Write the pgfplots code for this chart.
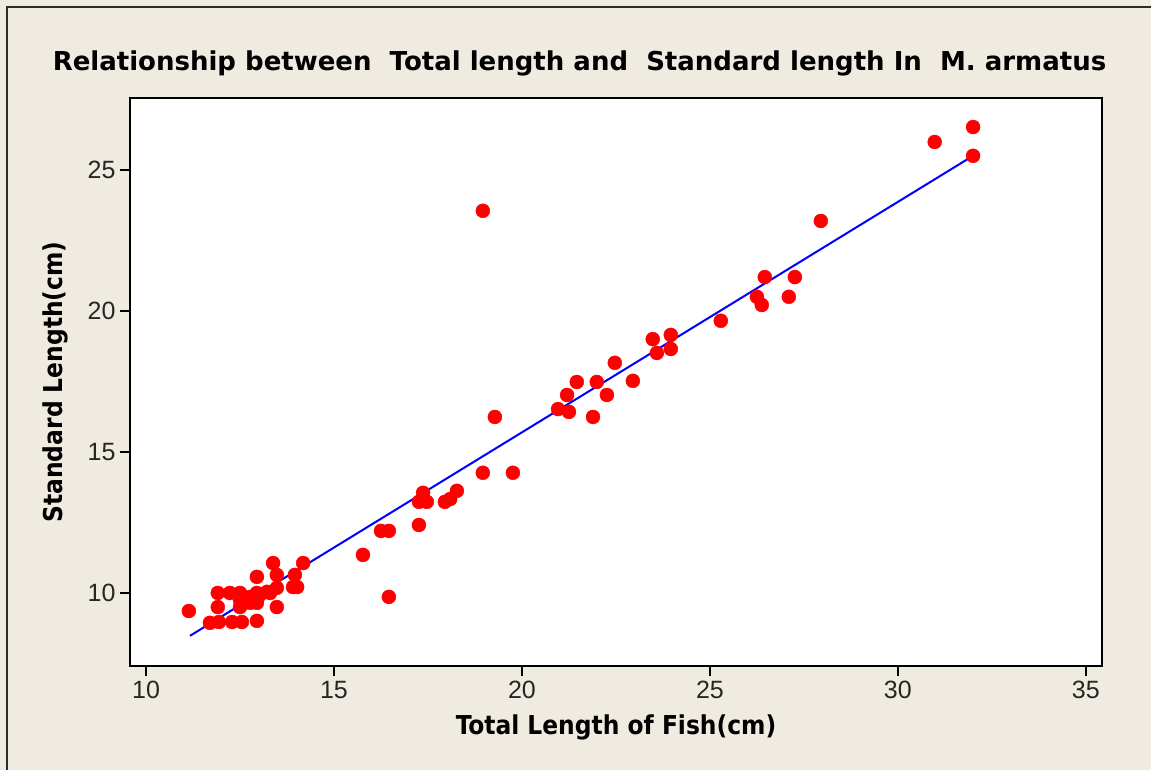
\documentclass[border=0pt]{standalone}
\usepackage{fontspec}
\setmainfont{Liberation Sans}
\newfontfamily\labfont{DejaVu Sans}
\newfontfamily\condfont{DejaVu Sans Condensed}
\usepackage{pgfplots}
\pgfplotsset{compat=1.18}
\definecolor{bg}{HTML}{EFEBE1}
\definecolor{frm}{HTML}{2B2B2B}
\definecolor{dotred}{HTML}{FF0000}
\definecolor{fitblue}{HTML}{0000FF}

\begin{document}
\begin{tikzpicture}[x=1pt,y=1pt]
  \fill[bg] (0,0) rectangle (1151,770);
  \draw[frm, line width=2pt] (7,-20) -- (7,763) -- (1170,763);
  \node[font=\labfont\bfseries\fontsize{26}{31}\selectfont, anchor=center] at (579.5,707)
    {Relationship between\ \ Total length and\ \ Standard length In\ \ M. armatus};
  \begin{axis}[
    at={(130pt,104pt)}, anchor=south west,
    scale only axis, width=972pt, height=568pt,
    xmin=9.574, xmax=35.43, ymin=7.41, ymax=27.55,
    xtick={10,15,20,25,30,35}, ytick={10,15,20,25},
    xtick pos=bottom, ytick pos=left,
    tick align=outside, major tick length=10pt,
    tick style={line width=2.5pt, black},
    axis line style={line width=2pt, black},
    axis background/.style={fill=white},
    /pgf/number format/assume math mode=true,
    ticklabel style={font=\fontsize{25}{30}\selectfont, color=black!85},
    xticklabel style={yshift=-2pt},
    yticklabel style={xshift=-1pt},
    xlabel={Total Length of Fish(cm)},
    ylabel={Standard Length(cm)},
    every axis x label/.style={at={(axis description cs:0.5,0)}, anchor=center,
      yshift=-61pt, font=\condfont\bfseries\fontsize{26}{30}\selectfont},
    every axis y label/.style={at={(axis description cs:0,0.5)}, anchor=center,
      xshift=-75pt, rotate=90, font=\condfont\bfseries\fontsize{26}{30}\selectfont},
  ]
    \addplot[fitblue, line width=2pt] coordinates {(11.17,8.48) (32.0,25.5)};
    \addplot[only marks, mark=*, mark size=7pt, mark options={fill=dotred, draw=dotred}] table {
      x y
      11.14 9.36
      11.70 8.94
      11.94 8.97
      11.91 9.50
      11.91 10.00
      12.23 10.00
      12.50 10.00
      12.29 8.97
      12.55 8.97
      12.95 9.01
      12.50 9.50
      12.50 9.75
      12.77 9.86
      12.77 9.65
      12.95 10.00
      12.95 9.65
      12.95 10.57
      13.03 9.93
      13.22 10.04
      13.30 10.00
      13.38 11.06
      13.48 10.64
      13.48 10.18
      13.48 9.50
      13.91 10.21
      14.02 10.21
      13.96 10.64
      14.18 11.06
      15.77 11.35
      16.25 12.20
      16.46 12.20
      16.46 9.86
      17.26 12.41
      17.37 13.55
      17.26 13.23
      17.47 13.23
      17.95 13.23
      18.09 13.33
      18.27 13.62
      18.96 14.26
      19.76 14.26
      19.28 16.24
      18.96 23.55
      20.96 16.52
      21.25 16.42
      21.20 17.02
      21.46 17.48
      21.99 17.48
      21.89 16.24
      22.26 17.02
      22.47 18.16
      22.95 17.52
      23.48 19.00
      23.59 18.51
      23.96 19.15
      23.96 18.65
      25.29 19.65
      26.25 20.50
      26.38 20.21
      26.46 21.20
      27.10 20.50
      27.26 21.20
      27.95 23.19
      30.98 25.99
      32.00 26.52
      32.00 25.50
    };
  \end{axis}
  \pgfresetboundingbox
  \path (0,0) rectangle (1151,770);
\end{tikzpicture}
\end{document}
